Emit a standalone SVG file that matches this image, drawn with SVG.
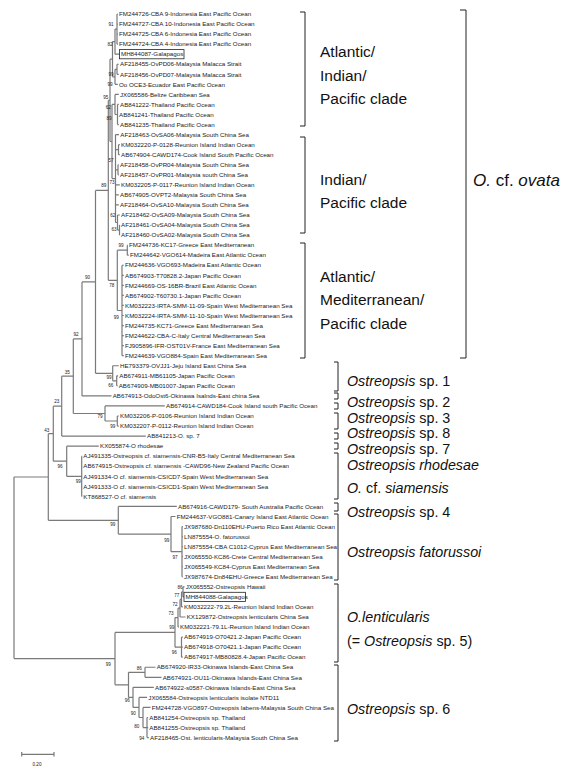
<svg xmlns="http://www.w3.org/2000/svg" width="567" height="784" viewBox="0 0 567 784">
<style>
.t{font-family:"Liberation Sans",Arial,sans-serif;font-size:6.2px;fill:#1a1a1a}
.b{font-family:"Liberation Sans",Arial,sans-serif;font-size:4.6px;fill:#222;text-anchor:middle}
.c{font-family:"Liberation Sans",Arial,sans-serif;font-size:15.5px;fill:#111}
.s{font-family:"Liberation Sans",Arial,sans-serif;font-size:14.3px;fill:#111}
.i{font-style:italic}
.tree{fill:none;stroke:#7a7a7a;stroke-width:1.2}
.br{fill:none;stroke:#222;stroke-width:1}
.box{fill:none;stroke:#222;stroke-width:0.8}
</style>
<rect width="567" height="784" fill="#fff"/>
<g id="connectors" class="tree">
<path d="M117 14V44.15M115 29.1V54.2M117 64.25V74.3M115 69.3V84.35M112.5 41.6V76.8M117.5 104.45V124.55M115 94.4V114.5M118.5 144.65V154.7M118 164.75V174.8M119.5 225.05V235.1M117.5 215V230.1M115.5 134.6V222.5M112 104.45V178.6M110 59.2V141.5M127.3 245.15V255.2M122 265.25V355.7M117.3 250.2V310.5M108.3 100.4V280.3M116.7 375.8V385.85M112.7 365.75V380.8M95.5 190.4V373.3M82 281.9V395.9M117.3 416V426.05M105 405.95V421M73.3 338.9V413.5M61.7 376.2V436.1M81.7 456.2V496.4M66.7 446.15V476.3M53.3 406.2V461.2M182 526.55V576.8M171 516.5V551.7M118.3 506.45V534.1M48.3 433.7V520.3M183 586.85V596.9M181.5 591.9V606.95M180 599.4V617M178 608.2V627.05M181.5 637.1V657.2M175 617.6V647.15M145 667.25V677.3M147 717.5V737.6M143 707.45V727.55M139 697.4V717.5M133 687.35V707.45M128.5 672.3V697.4M115 632.4V684.85M14 477V658.6"/>
<path d="M115 29.1H117M115 69.3H117M112.5 41.6H115M112.5 76.8H115M110 59.2H112.5M115 114.5H117.5M112 104.45H115M115.5 149.7H118.5M115.5 169.8H118M117.5 230.1H119.5M115.5 222.5H117.5M112 178.6H115.5M110 141.5H112M108.3 100.4H110M117.3 250.2H127.3M117.3 310.5H122M108.3 280.3H117.3M95.5 190.4H108.3M112.7 380.8H116.7M95.5 373.3H112.7M82 281.9H95.5M73.3 338.9H82M105 421H117.3M73.3 413.5H105M61.7 376.2H73.3M53.3 406.2H61.7M66.7 476.3H81.7M53.3 461.2H66.7M48.3 433.7H53.3M14 477H48.3M171 551.7H182M118.3 534.1H171M48.3 520.3H118.3M181.5 591.9H183M180 599.4H181.5M178 608.2H180M175 617.6H178M175 647.15H181.5M115 632.4H175M128.5 672.3H145M143 727.55H147M139 717.5H143M133 707.45H139M128.5 697.4H133M115 684.85H128.5M14 658.6H115"/>
<path d="M117 14H117.8M117 24.05H117.8M117 34.1H117.8M117 44.15H117.8M115 54.2H119.5M117 64.25H118.8M117 74.3H118.8M115 84.35H117.8M115 94.4H118.8M117.5 104.45H118.8M117.5 114.5H117.8M117.5 124.55H118.8M115.5 134.6H119M118.5 144.65H119.8M118.5 154.7H119.8M118 164.75H118.8M118 174.8H118.8M115.5 184.85H119.8M115.5 194.9H118.8M115.5 204.95H118.8M117.5 215H119.8M119.5 225.05H119.8M119.5 235.1H119.8M127.3 245.15H127.8M127.3 255.2H128.8M122 265.25H123.8M122 275.3H123.8M122 285.35H123.8M122 295.4H123.8M122 305.45H123.8M122 315.5H123.8M122 325.55H123.8M122 335.6H123.8M122 345.65H123.8M122 355.7H123.8M112.7 365.75H118.8M116.7 375.8H118.1M116.7 385.85H117.5M82 395.9H111.5M105 405.95H164.8M117.3 416H118.8M117.3 426.05H118.8M61.7 436.1H145.8M66.7 446.15H98.8M81.7 456.2H82.1M81.7 466.25H82.1M81.7 476.3H82.1M81.7 486.35H82.1M81.7 496.4H82.1M118.3 506.45H176.8M171 516.5H175.5M182 526.55H182.8M182 536.6H182.8M182 546.65H182.8M182 556.7H182.8M182 566.75H182.8M182 576.8H182.8M183 586.85H184.5M183 596.9H184M181.5 606.95H182.8M180 617H185.5M178 627.05H178.8M181.5 637.1H182.8M181.5 647.15H182.8M181.5 657.2H182.8M145 667.25H155.5M145 677.3H161.5M133 687.35H153.8M139 697.4H147.1M143 707.45H150.5M147 717.5H148.1M147 727.55H148.1M147 737.6H148.8"/>
</g>
<g id="bootstrap">
<text class="b" x="111" y="25.6">91</text>
<text class="b" x="110" y="45.6">82</text>
<text class="b" x="111" y="75.6">99</text>
<text class="b" x="110" y="85.6">99</text>
<text class="b" x="105.7" y="98.9">95</text>
<text class="b" x="108.3" y="108.6">62</text>
<text class="b" x="109" y="120.1">89</text>
<text class="b" x="111" y="161.6">57</text>
<text class="b" x="112" y="183.6">73</text>
<text class="b" x="103.7" y="187.1">89</text>
<text class="b" x="112.7" y="216.6">62</text>
<text class="b" x="114" y="230.9">63</text>
<text class="b" x="121" y="246.6">99</text>
<text class="b" x="111.7" y="286.6">78</text>
<text class="b" x="87.5" y="279.3">90</text>
<text class="b" x="116.3" y="318.6">99</text>
<text class="b" x="76" y="335.9">92</text>
<text class="b" x="67.3" y="373.6">35</text>
<text class="b" x="109" y="379.3">99</text>
<text class="b" x="110.7" y="387.3">66</text>
<text class="b" x="56.7" y="402.6">23</text>
<text class="b" x="100" y="418.3">79</text>
<text class="b" x="112.7" y="427.6">99</text>
<text class="b" x="46.7" y="431.6">43</text>
<text class="b" x="60" y="468.3">96</text>
<text class="b" x="78.3" y="483.3">99</text>
<text class="b" x="112.7" y="525.6">99</text>
<text class="b" x="166.7" y="541.6">99</text>
<text class="b" x="175" y="558.9">97</text>
<text class="b" x="180" y="588.6">86</text>
<text class="b" x="176.7" y="597.3">77</text>
<text class="b" x="175" y="605.9">72</text>
<text class="b" x="171" y="614.9">73</text>
<text class="b" x="171.7" y="629.3">99</text>
<text class="b" x="174.3" y="654.3">96</text>
<text class="b" x="108.3" y="665.6">99</text>
<text class="b" x="139.3" y="669.9">86</text>
<text class="b" x="127.3" y="701.6">96</text>
<text class="b" x="133.3" y="714.9">90</text>
<text class="b" x="136.7" y="728.3">80</text>
<text class="b" x="141.7" y="739.9">94</text>
</g>
<g id="leaves">
<g id="n1"><text class="t" x="119" y="16.2">FM244726-CBA 9-Indonesia East Pacific Ocean</text></g>
<g id="n2"><text class="t" x="119" y="26.25">FM244727-CBA 10-Indonesia East Pacific Ocean</text></g>
<g id="n3"><text class="t" x="119" y="36.3">FM244725-CBA 6-Indonesia East Pacific Ocean</text></g>
<g id="n4"><text class="t" x="119" y="46.35">FM244724-CBA 4-Indonesia East Pacific Ocean</text></g>
<g id="n5"><rect class="box" x="119.5" y="49.6" width="64.5" height="9.2"/><text class="t" x="121" y="56.4">MH844087-Galapagos</text></g>
<g id="n6"><text class="t" x="120" y="66.45">AF218455-OvPD06-Malaysia Malacca Strait</text></g>
<g id="n7"><text class="t" x="120" y="76.5">AF218456-OvPD07-Malaysia Malacca Strait</text></g>
<g id="n8"><text class="t" x="119" y="86.55">Oo OCE3-Ecuador East Pacific Ocean</text></g>
<g id="n9"><text class="t" x="120" y="96.6">JX065586-Belize Caribbean Sea</text></g>
<g id="n10"><text class="t" x="120" y="106.65">AB841222-Thailand Pacific Ocean</text></g>
<g id="n11"><text class="t" x="119" y="116.7">AB841241-Thailand Pacific Ocean</text></g>
<g id="n12"><text class="t" x="120" y="126.75">AB841235-Thailand Pacific Ocean</text></g>
<g id="n13"><text class="t" x="120.3" y="136.8">AF218463-OvSA06-Malaysia South China Sea</text></g>
<g id="n14"><text class="t" x="121" y="146.85">KM032220-P-0128-Reunion Island Indian Ocean</text></g>
<g id="n15"><text class="t" x="121" y="156.9">AB674904-CAWD174-Cook Island South Pacific Ocean</text></g>
<g id="n16"><text class="t" x="120" y="166.95">AF218458-OvPR04-Malaysia South China Sea</text></g>
<g id="n17"><text class="t" x="120" y="177">AF218457-OvPR01-Malaysia south China Sea</text></g>
<g id="n18"><text class="t" x="121" y="187.05">KM032205-P-0117-Reunion Island Indian Ocean</text></g>
<g id="n19"><text class="t" x="120" y="197.1">AB674905-OVPT2-Malaysia South China Sea</text></g>
<g id="n20"><text class="t" x="120" y="207.15">AF218464-OvSA10-Malaysia South China Sea</text></g>
<g id="n21"><text class="t" x="121" y="217.2">AF218462-OvSA09-Malaysia South China Sea</text></g>
<g id="n22"><text class="t" x="121" y="227.25">AF218461-OvSA04-Malaysia South China Sea</text></g>
<g id="n23"><text class="t" x="121" y="237.3">AF218460-OvSA02-Malaysia South China Sea</text></g>
<g id="n24"><text class="t" x="129" y="247.35">FM244736-KC17-Greece East Mediterranean</text></g>
<g id="n25"><text class="t" x="130" y="257.4">FM244642-VGO614-Madeira East Atlantic Ocean</text></g>
<g id="n26"><text class="t" x="125" y="267.45">FM244636-VGO693-Madeira East Atlantic Ocean</text></g>
<g id="n27"><text class="t" x="125" y="277.5">AB674903-T70828.2-Japan Pacific Ocean</text></g>
<g id="n28"><text class="t" x="125" y="287.55">FM244669-OS-16BR-Brazil East Atlantic Ocean</text></g>
<g id="n29"><text class="t" x="125" y="297.6">AB674902-T60730.1-Japan Pacific Ocean</text></g>
<g id="n30"><text class="t" x="125" y="307.65">KM032223-IRTA-SMM-11-09-Spain West Mediterranean Sea</text></g>
<g id="n31"><text class="t" x="125" y="317.7">KM032224-IRTA-SMM-11-10-Spain West Mediterranean Sea</text></g>
<g id="n32"><text class="t" x="125" y="327.75">FM244735-KC71-Greece East Mediterranean Sea</text></g>
<g id="n33"><text class="t" x="125" y="337.8">FM244622-CBA-C-Italy Central Mediterranean Sea</text></g>
<g id="n34"><text class="t" x="125" y="347.85">FJ905896-IFR-OST01V-France East Mediterranean Sea</text></g>
<g id="n35"><text class="t" x="125" y="357.9">FM244639-VGO884-Spain East Mediterranean Sea</text></g>
<g id="n36"><text class="t" x="120" y="367.95">HE793379-OVJJ1-Jeju Island East China Sea</text></g>
<g id="n37"><text class="t" x="119.3" y="378">AB674911-MB61105-Japan Pacific Ocean</text></g>
<g id="n38"><text class="t" x="118.7" y="388.05">AB674909-MB01007-Japan Pacific Ocean</text></g>
<g id="n39"><text class="t" x="112.7" y="398.1">AB674913-OdoOst6-Okinawa Isalnds-East china Sea</text></g>
<g id="n40"><text class="t" x="166" y="408.15">AB674914-CAWD184-Cook Island south Pacific Ocean</text></g>
<g id="n41"><text class="t" x="120" y="418.2">KM032206-P-0106-Reunion Island Indian Ocean</text></g>
<g id="n42"><text class="t" x="120" y="428.25">KM032207-P-0112-Reunion Island Indian Ocean</text></g>
<g id="n43"><text class="t" x="147" y="438.3">AB841213-O. sp. 7</text></g>
<g id="n44"><text class="t" x="100" y="448.35">KX055874-O rhodesae</text></g>
<g id="n45"><text class="t" x="83.3" y="458.4">AJ491335-Ostreopsis cf. siamensis-CNR-B5-Italy Central Mediterranean Sea</text></g>
<g id="n46"><text class="t" x="83.3" y="468.45">AB674915-Ostreopsis cf. siamensis -CAWD96-New Zealand Pacific Ocean</text></g>
<g id="n47"><text class="t" x="83.3" y="478.5">AJ491334-O cf. siamensis-CSICD7-Spain West Mediterranean Sea</text></g>
<g id="n48"><text class="t" x="83.3" y="488.55">AJ491333-O cf. siamensis-CSICD1-Spain West Mediterranean Sea</text></g>
<g id="n49"><text class="t" x="83.3" y="498.6">KT868527-O cf. siamensis</text></g>
<g id="n50"><text class="t" x="178" y="508.65">AB674916-CAWD179- South Australia Pacific Ocean</text></g>
<g id="n51"><text class="t" x="176.7" y="518.7">FM244637-VGO881-Canary Island East Atlantic Ocean</text></g>
<g id="n52"><text class="t" x="184" y="528.75">JX987680-Dn110EHU-Puerto Rico East Atlantic Ocean</text></g>
<g id="n53"><text class="t" x="184" y="538.8">LN875554-O. fatorussoi</text></g>
<g id="n54"><text class="t" x="184" y="548.85">LN875554-CBA C1012-Cyprus East Mediterranean Sea</text></g>
<g id="n55"><text class="t" x="184" y="558.9">JX065550-KC86-Crete Central Mediterranean Sea</text></g>
<g id="n56"><text class="t" x="184" y="568.95">JX065549-KC84-Cyprus East Mediterranean Sea</text></g>
<g id="n57"><text class="t" x="184" y="579">JX987674-Dn84EHU-Greece East Mediterranean Sea</text></g>
<g id="n58"><text class="t" x="185.7" y="589.05">JX065552-Ostreopsis Hawaii</text></g>
<g id="n59"><rect class="box" x="184" y="592.3" width="61.5" height="9.2"/><text class="t" x="185.5" y="599.1">MH844088-Galapagos</text></g>
<g id="n60"><text class="t" x="184" y="609.15">KM032222-79.2L-Reunion Island Indian Ocean</text></g>
<g id="n61"><text class="t" x="186.7" y="619.2">KX129872-Ostreopsis lenticularis China Sea</text></g>
<g id="n62"><text class="t" x="180" y="629.25">KM032221-79.1L-Reunion Island Indian Ocean</text></g>
<g id="n63"><text class="t" x="184" y="639.3">AB674919-O70421.2-Japan Pacific Ocean</text></g>
<g id="n64"><text class="t" x="184" y="649.35">AB674918-O70421.1-Japan Pacific Ocean</text></g>
<g id="n65"><text class="t" x="184" y="659.4">AB674917-MB80828.4-Japan Pacific Ocean</text></g>
<g id="n66"><text class="t" x="156.7" y="669.45">AB674920-IR33-Okinawa Islands-East China Sea</text></g>
<g id="n67"><text class="t" x="162.7" y="679.5">AB674921-OU11-Okinawa Islands-East China Sea</text></g>
<g id="n68"><text class="t" x="155" y="689.55">AB674922-s0587-Okinawa Islands-East China Sea</text></g>
<g id="n69"><text class="t" x="148.3" y="699.6">JX065584-Ostreopsis lenticularis isolate NTD11</text></g>
<g id="n70"><text class="t" x="151.7" y="709.65">FM244728-VGO897-Ostreopsis labens-Malaysia South China Sea</text></g>
<g id="n71"><text class="t" x="149.3" y="719.7">AB841254-Ostreopsis sp. Thailand</text></g>
<g id="n72"><text class="t" x="149.3" y="729.75">AB841255-Ostreopsis sp. Thailand</text></g>
<g id="n73"><text class="t" x="150" y="739.8">AF218465-Ost. lenticularis-Malaysia South China Sea</text></g>
</g>
<g id="clades">
<g id="clade-aip"><path class="br" d="M300 12H305V126H300"/><text class="c" x="320" y="57">Atlantic/</text><text class="c" x="320" y="81">Indian/</text><text class="c" x="320" y="104">Pacific clade</text></g>
<g id="clade-ip"><path class="br" d="M300 137H305V233H300"/><text class="c" x="320" y="185">Indian/</text><text class="c" x="320" y="208">Pacific clade</text></g>
<g id="clade-amp"><path class="br" d="M300 243H305V358H300"/><text class="c" x="320" y="282">Atlantic/</text><text class="c" x="320" y="305">Mediterranean/</text><text class="c" x="320" y="329">Pacific clade</text></g>
<g id="clade-ovata"><path class="br" d="M460 10H466V358H460"/><text class="c" x="473" y="186" style="font-size:17px"><tspan class="i">O.</tspan> cf. <tspan class="i">ovata</tspan></text></g>
<g id="clade-sp1"><path class="br" d="M334 362H338V391H334"/><text class="s" x="347" y="386"><tspan class="i">Ostreopsis</tspan> sp. 1</text></g>
<g id="clade-sp2"><path class="br" d="M334 393H338V399H334"/><text class="s" x="347" y="407"><tspan class="i">Ostreopsis</tspan> sp. 2</text></g>
<g id="clade-sp3"><path class="br" d="M334 403H338V409H334"/><text class="s" x="347" y="422.5"><tspan class="i">Ostreopsis</tspan> sp. 3</text></g>
<g id="clade-sp8"><path class="br" d="M334 413H338V429H334"/><text class="s" x="347" y="438"><tspan class="i">Ostreopsis</tspan> sp. 8</text></g>
<g id="clade-sp7"><path class="br" d="M334 433H338V439H334"/><text class="s" x="347" y="453.5"><tspan class="i">Ostreopsis</tspan> sp. 7</text></g>
<g id="clade-rho"><path class="br" d="M334 443H338V449H334"/><text class="s i" x="347" y="470">Ostreopsis rhodesae</text></g>
<g id="clade-sia"><path class="br" d="M334 453H338V499H334"/><text class="s" x="347" y="493"><tspan class="i">O.</tspan> cf. <tspan class="i">siamensis</tspan></text></g>
<g id="clade-sp4"><path class="br" d="M334 503H338V511H334"/><text class="s" x="347" y="517"><tspan class="i">Ostreopsis</tspan> sp. 4</text></g>
<g id="clade-fat"><path class="br" d="M334 514H338V580H334"/><text class="s i" x="347" y="557">Ostreopsis fatorussoi</text></g>
<g id="clade-len"><path class="br" d="M334 584H338V662H334"/><text class="s" x="347" y="622"><tspan class="i">O.lenticularis</tspan></text><text class="s" x="347" y="646">(= <tspan class="i">Ostreopsis</tspan> sp. 5)</text></g>
<g id="clade-sp6"><path class="br" d="M334 665H338V741H334"/><text class="s" x="347" y="714"><tspan class="i">Ostreopsis</tspan> sp. 6</text></g>
</g>
<g id="scale"><path class="tree" d="M21.7 754.3H54M21.7 752V756.6M54 752V756.6"/><text class="b" x="37" y="766">0.20</text></g>
</svg>
